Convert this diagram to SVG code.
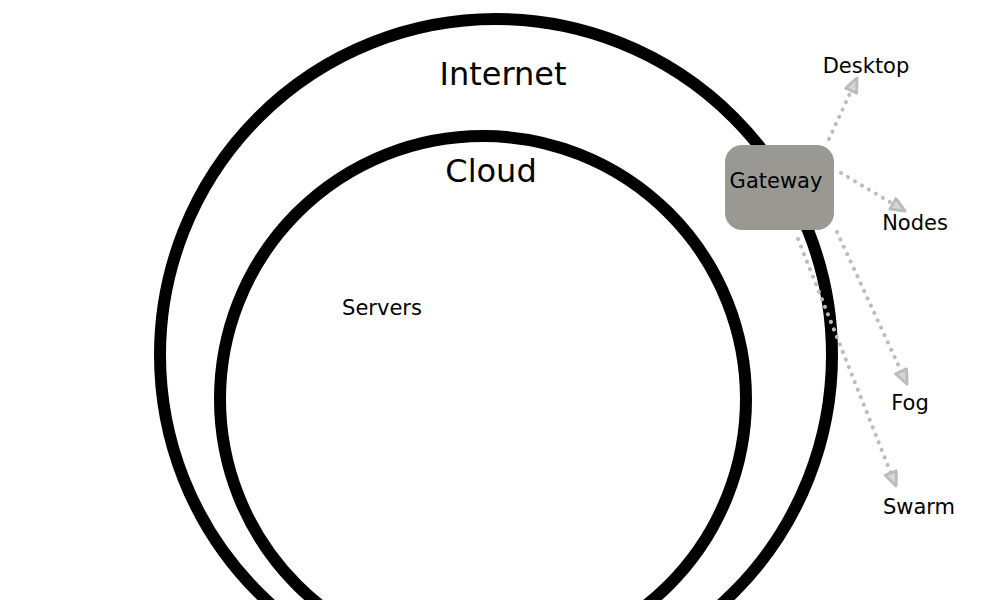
<svg xmlns="http://www.w3.org/2000/svg" width="1000" height="600" viewBox="0 0 1000 600">
<defs>
<style>
.ring{fill:none;stroke:#000;stroke-width:12}
.lbl{font-family:"DejaVu Sans",sans-serif;fill:#000}
.big{font-size:32px}
.sm{font-size:21px}
.edge{fill:none;stroke:#bdbcb8;stroke-width:4;stroke-linecap:round;stroke-dasharray:0.1 8}
</style>
<marker id="ah" markerUnits="userSpaceOnUse" markerWidth="20" markerHeight="16" refX="16" refY="7" orient="auto">
<path d="M2,1 L16,7 L2,13 Z" fill="#d8d7d3" stroke="#bdbcb8" stroke-width="3" stroke-linejoin="round"/>
</marker>
</defs>
<rect width="1000" height="600" fill="#fff"/>
<g id="internet">
<circle class="ring" cx="496" cy="355" r="336"/>
<text class="lbl big" x="503" y="85" text-anchor="middle">Internet</text>
</g>
<g id="cloud">
<circle class="ring" cx="483" cy="399" r="263"/>
<text class="lbl big" x="491" y="182" text-anchor="middle">Cloud</text>
</g>
<g id="servers">
<text class="lbl sm" x="382" y="315" text-anchor="middle">Servers</text>
</g>
<g id="connectors">
<line class="edge" x1="829" y1="139" x2="857" y2="78" marker-end="url(#ah)"/>
<line class="edge" x1="841" y1="173" x2="905" y2="211" marker-end="url(#ah)"/>
<line class="edge" x1="837" y1="232" x2="907" y2="384" marker-end="url(#ah)"/>
<line class="edge" x1="798" y1="239" x2="896" y2="486" marker-end="url(#ah)"/>
</g>
<g id="gateway">
<rect x="725" y="145" width="109" height="85" rx="17" fill="#9a9893"/>
<text class="lbl sm" x="776" y="188" text-anchor="middle">Gateway</text>
</g>
<g id="desktop"><text class="lbl sm" x="866" y="73" text-anchor="middle">Desktop</text></g>
<g id="nodes"><text class="lbl sm" x="915" y="230" text-anchor="middle">Nodes</text></g>
<g id="fog"><text class="lbl sm" x="910" y="410" text-anchor="middle">Fog</text></g>
<g id="swarm"><text class="lbl sm" x="919" y="514" text-anchor="middle">Swarm</text></g>
</svg>
